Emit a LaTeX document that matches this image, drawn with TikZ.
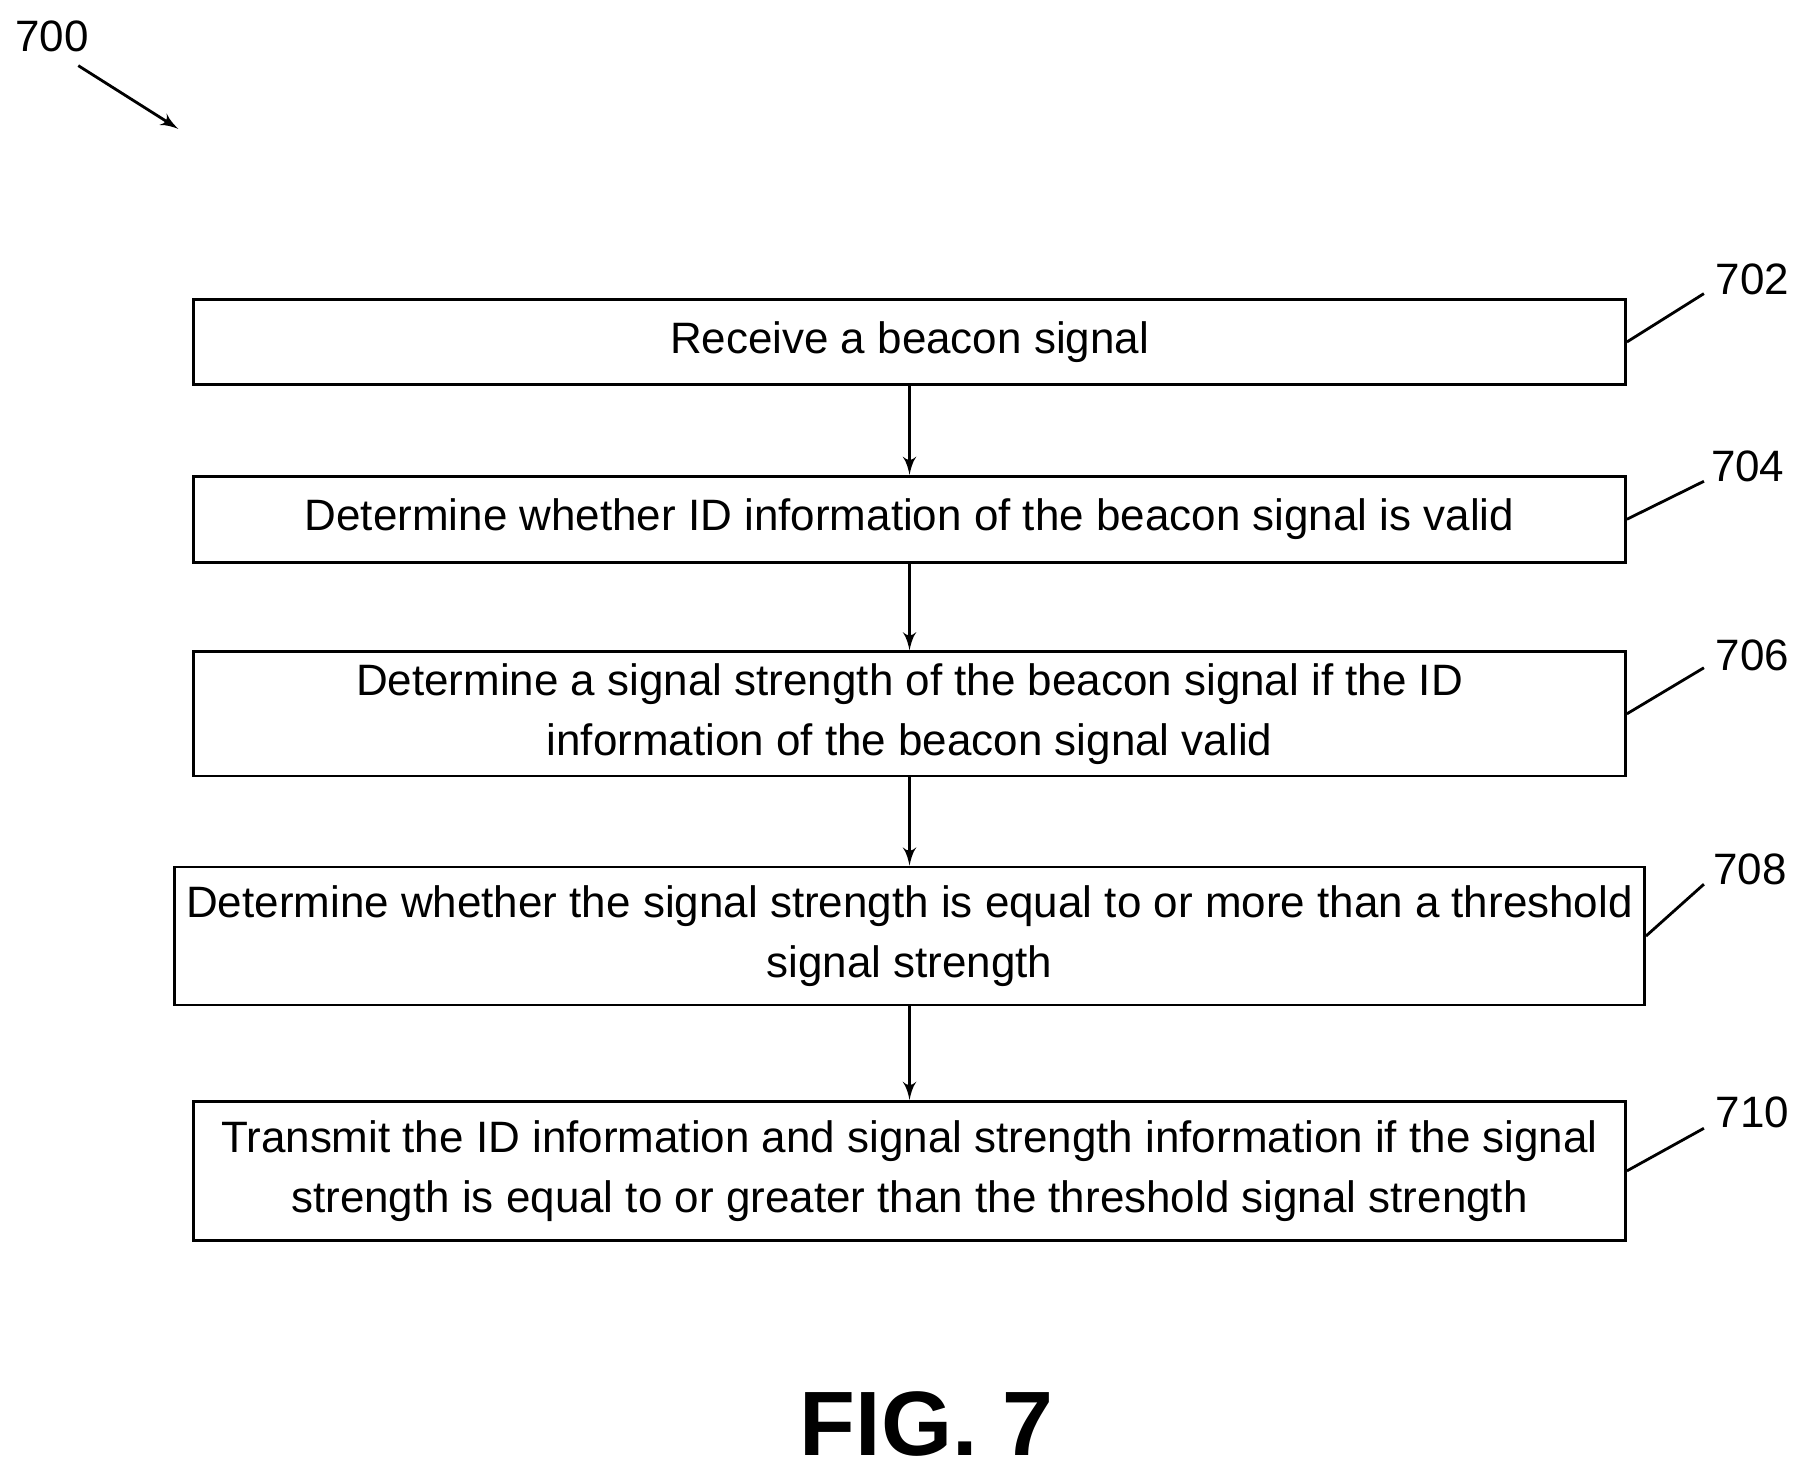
\documentclass[tikz,border=0pt]{standalone}
\usepackage{fontspec}
\setmainfont{Liberation Sans}
\usetikzlibrary{arrows}
\tikzstyle{stepbox} = [rectangle, draw=black, thick, minimum width=14.31cm, text centered, align=center, font=\fontsize{12.5}{17}\selectfont]
\tikzstyle{tag} = [font=\fontsize{12.5}{15}\selectfont]

\begin{document}
\begin{tikzpicture}[x=0.0115cm, y=-0.0115cm, >=latex']
\useasboundingbox (0,0) rectangle (1560,1270);
\node [tag] (lab700) at (45,32) {700};
\coordinate (arrS) at (68,57);
\coordinate (arrE) at (155,112);
\draw [thick,->] (arrS) -- (arrE);

\node [stepbox, minimum height=0.85cm] (Receive) at (790,297) {Receive a beacon signal};
\node [stepbox, minimum height=0.86cm] (Valid) at (790,451) {Determine whether ID information of the beacon signal is valid};
\node [stepbox, minimum height=1.24cm] (Strength) at (790,620) {Determine a signal strength of the beacon signal if the ID\\information of the beacon signal valid};
\node [stepbox, minimum height=1.38cm] (Threshold) at (790,813) {Determine whether the signal strength is equal to or more than a threshold\\signal strength};
\node [stepbox, minimum height=1.39cm] (Transmit) at (790,1017) {Transmit the ID information and signal strength information if the signal\\strength is equal to or greater than the threshold signal strength};

\draw [thick,->] (Receive) -- (Valid);
\draw [thick,->] (Valid) -- (Strength);
\draw [thick,->] (Strength) -- (Threshold);
\draw [thick,->] (Threshold) -- (Transmit);

% reference numerals
\node [tag] (lab702) at (1522,243) {702};
\node [tag] (lab704) at (1518,405) {704};
\node [tag] (lab706) at (1522,569) {706};
\node [tag] (lab708) at (1520,755) {708};
\node [tag] (lab710) at (1522,966) {710};
\draw [thick] (Receive.east) -- (1480,255);
\draw [thick] (Valid.east) -- (1480,418);
\draw [thick] (Strength.east) -- (1480,580);
\draw [thick] (Threshold.east) -- (1480,768);
\draw [thick] (Transmit.east) -- (1480,980);

\node [font=\bfseries\fontsize{26}{30}\selectfont] (fig) at (805,1237) {FIG. 7};
\end{tikzpicture}
\end{document}
